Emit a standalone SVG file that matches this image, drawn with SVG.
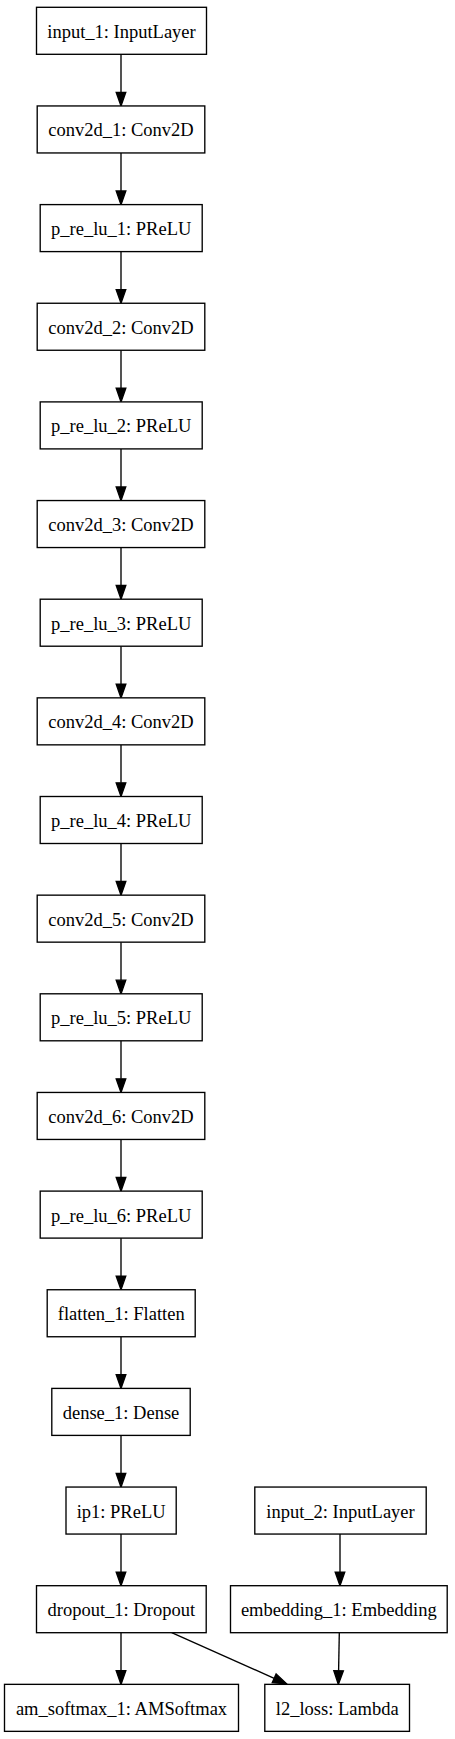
<svg xmlns="http://www.w3.org/2000/svg" width="455" height="1739" viewBox="0 0 455 1739">
<style>
.n rect{fill:#fff;stroke:#000;stroke-width:1.35}
.n text{font-family:"Liberation Serif","Times New Roman",serif;font-size:18.5px;fill:#000;text-anchor:middle}
.e line{stroke:#000;stroke-width:1.35;fill:none}
</style>
<defs>
<marker id="ah" markerUnits="userSpaceOnUse" markerWidth="16" markerHeight="12" refX="0" refY="5" orient="auto" viewBox="0 0 16 12" overflow="visible">
<path d="M0,0.2 L13.7,5 L0,9.8 Z" fill="#000" stroke="#000" stroke-width="1.35"/>
</marker>
</defs>
<rect width="455" height="1739" fill="#fff"/>
<g id="connectors" class="e">
<line x1="121" y1="54.3" x2="121" y2="92.3" marker-end="url(#ah)"/>
<line x1="121" y1="152.95" x2="121" y2="190.95" marker-end="url(#ah)"/>
<line x1="121" y1="251.6" x2="121" y2="289.6" marker-end="url(#ah)"/>
<line x1="121" y1="350.25" x2="121" y2="388.25" marker-end="url(#ah)"/>
<line x1="121" y1="448.9" x2="121" y2="486.9" marker-end="url(#ah)"/>
<line x1="121" y1="547.55" x2="121" y2="585.55" marker-end="url(#ah)"/>
<line x1="121" y1="646.2" x2="121" y2="684.2" marker-end="url(#ah)"/>
<line x1="121" y1="744.85" x2="121" y2="782.85" marker-end="url(#ah)"/>
<line x1="121" y1="843.5" x2="121" y2="881.5" marker-end="url(#ah)"/>
<line x1="121" y1="942.15" x2="121" y2="980.15" marker-end="url(#ah)"/>
<line x1="121" y1="1040.8" x2="121" y2="1078.8" marker-end="url(#ah)"/>
<line x1="121" y1="1139.45" x2="121" y2="1177.45" marker-end="url(#ah)"/>
<line x1="121" y1="1238.1" x2="121" y2="1276.1" marker-end="url(#ah)"/>
<line x1="121" y1="1336.75" x2="121" y2="1374.75" marker-end="url(#ah)"/>
<line x1="121" y1="1435.4" x2="121" y2="1473.4" marker-end="url(#ah)"/>
<line x1="121" y1="1534.05" x2="121" y2="1572.05" marker-end="url(#ah)"/>
<line x1="121" y1="1632.7" x2="121" y2="1670.7" marker-end="url(#ah)"/>
<line x1="340" y1="1534.05" x2="340" y2="1572.05" marker-end="url(#ah)"/>
<line x1="339.3" y1="1632.7" x2="338.6" y2="1670.7" marker-end="url(#ah)"/>
<line x1="171.7" y1="1632.7" x2="274.2" y2="1678.3" marker-end="url(#ah)"/>
</g>
<g id="input_1" class="n"><rect x="36.5" y="7.3" width="170" height="47"/><text x="121.5" y="37.8">input_1: InputLayer</text></g>
<g id="conv2d_1" class="n"><rect x="37.2" y="105.95" width="167.6" height="47"/><text x="121" y="136.45">conv2d_1: Conv2D</text></g>
<g id="p_re_lu_1" class="n"><rect x="40.2" y="204.6" width="162" height="47"/><text x="121.2" y="235.1">p_re_lu_1: PReLU</text></g>
<g id="conv2d_2" class="n"><rect x="37.2" y="303.25" width="167.6" height="47"/><text x="121" y="333.75">conv2d_2: Conv2D</text></g>
<g id="p_re_lu_2" class="n"><rect x="40.2" y="401.9" width="162" height="47"/><text x="121.2" y="432.4">p_re_lu_2: PReLU</text></g>
<g id="conv2d_3" class="n"><rect x="37.2" y="500.55" width="167.6" height="47"/><text x="121" y="531.05">conv2d_3: Conv2D</text></g>
<g id="p_re_lu_3" class="n"><rect x="40.2" y="599.2" width="162" height="47"/><text x="121.2" y="629.7">p_re_lu_3: PReLU</text></g>
<g id="conv2d_4" class="n"><rect x="37.2" y="697.85" width="167.6" height="47"/><text x="121" y="728.35">conv2d_4: Conv2D</text></g>
<g id="p_re_lu_4" class="n"><rect x="40.2" y="796.5" width="162" height="47"/><text x="121.2" y="827">p_re_lu_4: PReLU</text></g>
<g id="conv2d_5" class="n"><rect x="37.2" y="895.15" width="167.6" height="47"/><text x="121" y="925.65">conv2d_5: Conv2D</text></g>
<g id="p_re_lu_5" class="n"><rect x="40.2" y="993.8" width="162" height="47"/><text x="121.2" y="1024.3">p_re_lu_5: PReLU</text></g>
<g id="conv2d_6" class="n"><rect x="37.2" y="1092.45" width="167.6" height="47"/><text x="121" y="1122.95">conv2d_6: Conv2D</text></g>
<g id="p_re_lu_6" class="n"><rect x="40.2" y="1191.1" width="162" height="47"/><text x="121.2" y="1221.6">p_re_lu_6: PReLU</text></g>
<g id="flatten_1" class="n"><rect x="47.2" y="1289.75" width="148" height="47"/><text x="121.2" y="1320.25">flatten_1: Flatten</text></g>
<g id="dense_1" class="n"><rect x="51.8" y="1388.4" width="138.4" height="47"/><text x="121" y="1418.9">dense_1: Dense</text></g>
<g id="ip1" class="n"><rect x="66" y="1487.05" width="110.2" height="47"/><text x="121.1" y="1517.55">ip1: PReLU</text></g>
<g id="input_2" class="n"><rect x="254.8" y="1487.05" width="171.4" height="47"/><text x="340.5" y="1517.55">input_2: InputLayer</text></g>
<g id="dropout_1" class="n"><rect x="36.5" y="1585.7" width="169.7" height="47"/><text x="121.3" y="1616.2">dropout_1: Dropout</text></g>
<g id="embedding_1" class="n"><rect x="230.5" y="1585.7" width="216.7" height="47"/><text x="338.8" y="1616.2">embedding_1: Embedding</text></g>
<g id="am_softmax_1" class="n"><rect x="4.5" y="1684.35" width="234" height="47"/><text x="121.5" y="1714.85">am_softmax_1: AMSoftmax</text></g>
<g id="l2_loss" class="n"><rect x="264.8" y="1684.35" width="144.7" height="47"/><text x="337.2" y="1714.85">l2_loss: Lambda</text></g>
</svg>
